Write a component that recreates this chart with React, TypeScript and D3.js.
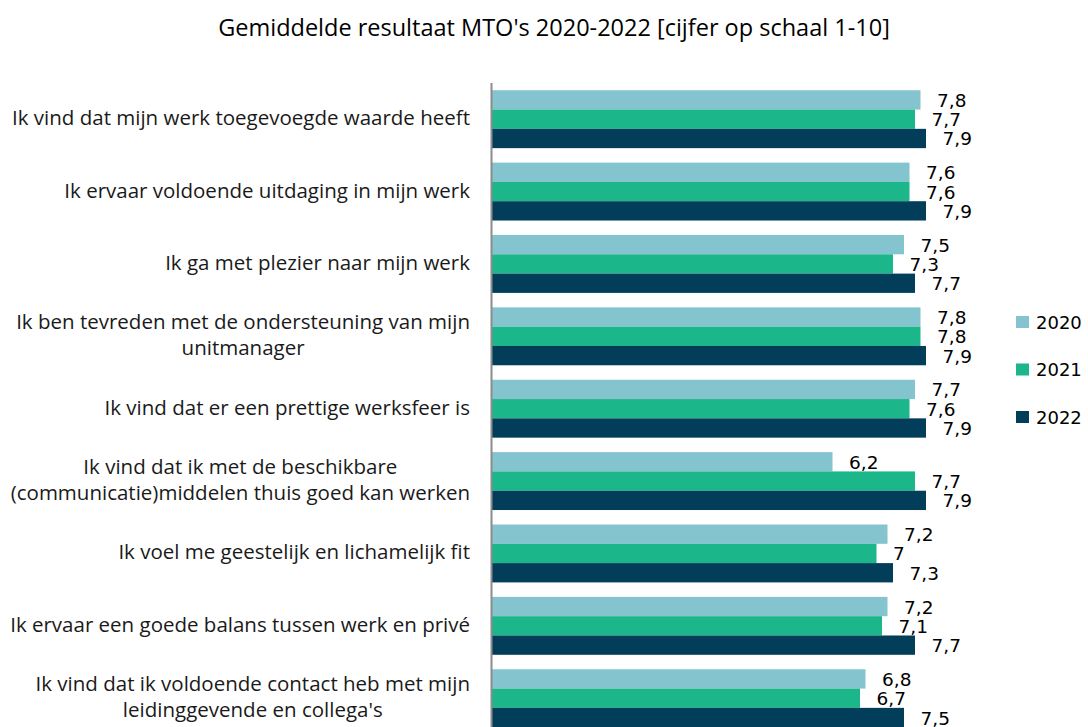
import React, { useEffect, useRef } from 'react';
import * as d3 from 'd3';

const categories = [
  ['Ik vind dat mijn werk toegevoegde waarde heeft'],
  ['Ik ervaar voldoende uitdaging in mijn werk'],
  ['Ik ga met plezier naar mijn werk'],
  ['Ik ben tevreden met de ondersteuning van mijn', 'unitmanager'],
  ['Ik vind dat er een prettige werksfeer is'],
  ['Ik vind dat ik met de beschikbare', '(communicatie)middelen thuis goed kan werken'],
  ['Ik voel me geestelijk en lichamelijk fit'],
  ['Ik ervaar een goede balans tussen werk en privé'],
  ['Ik vind dat ik voldoende contact heb met mijn', "leidinggevende en collega's"],
];
const years = ['2020', '2021', '2022'];
const values2020 = [7.8, 7.6, 7.5, 7.8, 7.7, 6.2, 7.2, 7.2, 6.8];
const values2021 = [7.7, 7.6, 7.3, 7.8, 7.6, 7.7, 7.0, 7.1, 6.7];
const values2022 = [7.9, 7.9, 7.7, 7.9, 7.9, 7.9, 7.3, 7.7, 7.5];
const colors = ['#84c4cf', '#1bb78a', '#023e5a'];
const title = "Gemiddelde resultaat MTO's 2020-2022 [cijfer op schaal 1-10]";

const W = 1088, H = 727;

export default function App() {
  const ref = useRef<SVGSVGElement>(null);

  useEffect(() => {
    const svg = d3.select(ref.current);
    svg.selectAll('*').remove();

    const series = [values2020, values2021, values2022];
    const idx = categories.map((_, i) => String(i));

    const x = d3.scaleLinear().domain([0, 10]).range([491.5, 1041.5]);
    const y = d3.scaleBand().domain(idx).range([83, 734.4]).paddingInner(0.2).paddingOuter(0.1);
    const ys = d3.scaleBand().domain(years).range([0, y.bandwidth()]);
    const fmt = (v) => String(v).replace('.', ',');

    svg.append('text')
      .attr('x', 554).attr('y', 35.5)
      .attr('text-anchor', 'middle')
      .attr('font-family', 'Open Sans')
      .attr('font-size', 23.5)
      .attr('fill', '#000')
      .text(title);

    const groups = svg.append('g').selectAll('g')
      .data(idx).enter().append('g')
      .attr('transform', d => `translate(0,${y(d)})`);

    years.forEach((yr, s) => {
      groups.append('rect')
        .attr('x', x(0))
        .attr('y', ys(yr))
        .attr('width', (d, i) => x(series[s][i]) - x(0))
        .attr('height', ys.bandwidth())
        .attr('fill', colors[s]);
      groups.append('text')
        .attr('x', (d, i) => x(series[s][i]) + 16.5)
        .attr('y', ys(yr) + ys.bandwidth() / 2 + 7)
        .attr('font-family', 'DejaVu Sans')
        .attr('font-size', 18.5)
        .attr('fill', '#000')
        .text((d, i) => fmt(series[s][i]));
    });

    svg.append('line')
      .attr('x1', x(0)).attr('x2', x(0))
      .attr('y1', 83).attr('y2', 734)
      .attr('stroke', '#8c8c8c').attr('stroke-width', 2);

    // category labels: widest line right-aligned at 470, lines centred
    categories.forEach((lines, i) => {
      const cy = y(String(i)) + y.bandwidth() / 2;
      const g = svg.append('g');
      const texts = lines.map((ln, k) => g.append('text')
        .attr('y', cy + 6 + (k - (lines.length - 1) / 2) * 26)
        .attr('font-family', 'Open Sans')
        .attr('font-size', 20.5)
        .attr('fill', '#1a1a1a')
        .attr('text-anchor', 'middle')
        .text(ln));
      const wmax = d3.max(texts, t => (t.node() as SVGTextElement).getComputedTextLength());
      texts.forEach(t => t.attr('x', 470 - wmax / 2));
    });

    const leg = svg.append('g').selectAll('g')
      .data(years).enter().append('g')
      .attr('transform', (d, i) => `translate(1016,${322 + i * 47.5})`);
    leg.append('rect')
      .attr('x', 0).attr('y', -6).attr('width', 13).attr('height', 12)
      .attr('fill', (d, i) => colors[i]);
    leg.append('text')
      .attr('x', 20).attr('y', 6.5)
      .attr('font-family', 'DejaVu Sans')
      .attr('font-size', 18)
      .attr('fill', '#000')
      .text(d => d);
  }, []);

  return (
    <svg ref={ref} width={W} height={H}
      style={{ position: 'absolute', left: 0, top: 0, background: '#fff', overflow: 'hidden' }} />
  );
}
